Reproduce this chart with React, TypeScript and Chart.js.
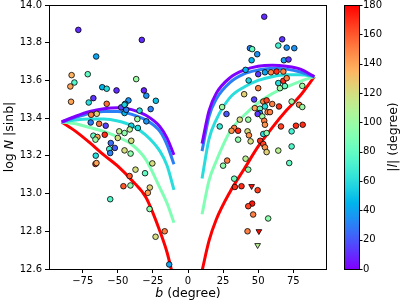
import { useEffect, useRef } from 'react';
import { Chart, registerables } from 'chart.js';

Chart.register(...registerables);

// ---- axis ticks ----
const xTicks = [-75, -50, -25, 0, 25, 50, 75];
const yTicks = [12.6, 12.8, 13.0, 13.2, 13.4, 13.6, 13.8, 14.0];
const colorbarTicks = [0, 20, 40, 60, 80, 100, 120, 140, 160, 180];

// ---- model curves ----
const curveL = [0, 30, 60, 90, 180];
const curveBSouth = [-90, -80, -70, -60, -50, -40, -30, -20, -15, -10];
const curveSouthL0 = [13.38, 13.41, 13.435, 13.45, 13.455, 13.445, 13.415, 13.355, 13.295, 13.205];
const curveSouthL30 = [13.38, 13.405, 13.425, 13.435, 13.435, 13.42, 13.39, 13.33, 13.26, 13.155];
const curveSouthL60 = [13.38, 13.39, 13.395, 13.395, 13.385, 13.36, 13.31, 13.225, 13.15, 13.02];
const curveSouthL90 = [13.38, 13.37, 13.35, 13.33, 13.30, 13.26, 13.18, 13.03, 12.95, 12.845];
const curveSouthL180 = [13.38, 13.33, 13.27, 13.205, 13.145, 13.07, 12.98, 12.80, 12.69, 12.54];
const curveBNorth = [10, 15, 20, 30, 40, 50, 60, 70, 80, 90];
const curveNorthL0 = [13.265, 13.44, 13.53, 13.615, 13.655, 13.675, 13.68, 13.675, 13.66, 13.62];
const curveNorthL30 = [13.225, 13.41, 13.50, 13.59, 13.635, 13.655, 13.665, 13.66, 13.645, 13.62];
const curveNorthL60 = [13.08, 13.29, 13.39, 13.51, 13.565, 13.60, 13.62, 13.63, 13.63, 13.62];
const curveNorthL90 = [12.89, 13.07, 13.17, 13.33, 13.415, 13.48, 13.53, 13.565, 13.595, 13.62];
const curveNorthL180 = [12.59, 12.75, 12.86, 13.01, 13.13, 13.25, 13.35, 13.44, 13.52, 13.62];

// ---- observed points: b (deg), log N|sin b|, |l| (deg) ----
const pointB = [
  -78.1, -32.9, -65.4, -82.9, -71.4, -36.9, -80.9, -83.8, -61.1, -57.9,
  -50.9, -31.4, -29.7, -83.3, -70.7, -67.4, -57.9, -42.4, -44.7, -22.9,
  -47.6, -26.6, -36.1, -65.0, -69.3, -63.3, -58.6, -67.4, -64.5, -65.9,
  -59.3, -49.0, -45.2, -50.0, -40.4, -55.0, -52.1, -56.1, -55.4, -65.7,
  -65.9, -65.2, -45.2, -40.9, -25.4, -37.4, -30.6, -41.6, -46.0, -41.0,
  -27.2, -28.6, -55.4, -27.4, -16.6, -23.1, -13.4, -45.2, -45.2, -29.7,
  -40.4, -35.7, -69.0, -44.0, -41.5, -34.5,
  54.3, 67.1, 64.3, 70.3, 75.7, 44.1, 45.7, 49.3, 45.3, 68.3,
  71.6, 41.0, 43.2, 50.0, 54.8, 59.1, 63.1, 67.9, 50.0, 64.3,
  67.9, 70.3, 65.5, 69.0, 81.4, 40.0, 47.1, 53.6, 56.0, 60.0,
  64.8, 73.8, 79.1, 81.4, 24.3, 47.6, 51.2, 54.8, 56.7, 51.2,
  49.6, 52.9, 58.4, 27.4, 36.9, 42.9, 22.6, 54.3, 54.8, 66.2,
  76.9, 81.7, 73.8, 32.9, 31.0, 35.7, 42.4, 43.4, 53.6, 56.0,
  35.7, 44.6, 51.4, 53.6, 54.8, 56.0, 64.3, 73.8, 72.1, 27.9,
  25.0, 41.0, 42.9, 32.9, 33.4, 38.1, 49.6, 45.7, 42.9, 46.4,
  57.1, 42.4,
];
const pointLogN = [
  13.868, 13.815, 13.727, 13.628, 13.633, 13.607, 13.589, 13.568, 13.564, 13.556,
  13.547, 13.547, 13.519, 13.487, 13.483, 13.506, 13.476, 13.494, 13.476, 13.492,
  13.457, 13.448, 13.395, 13.423, 13.377, 13.370, 13.360, 13.307, 13.300, 13.286,
  13.312, 13.330, 13.321, 13.295, 13.280, 13.268, 13.242, 13.236, 13.215, 13.201,
  13.157, 13.162, 13.229, 13.212, 13.160, 13.127, 13.108, 13.093, 13.039, 13.043,
  13.032, 13.004, 12.970, 12.918, 12.800, 12.771, 12.624, 13.471, 13.427, 13.383,
  13.360, 13.348, 13.418, 13.444, 13.340, 13.440,
  13.938, 13.818, 13.785, 13.774, 13.771, 13.771, 13.766, 13.739, 13.707, 13.707,
  13.711, 13.656, 13.600, 13.633, 13.643, 13.643, 13.647, 13.647, 13.559, 13.586,
  13.598, 13.612, 13.559, 13.570, 13.571, 13.527, 13.499, 13.488, 13.494, 13.475,
  13.462, 13.488, 13.471, 13.459, 13.459, 13.453, 13.450, 13.462, 13.432, 13.427,
  13.422, 13.409, 13.432, 13.422, 13.392, 13.392, 13.356, 13.386, 13.365, 13.356,
  13.360, 13.365, 13.330, 13.348, 13.333, 13.333, 13.330, 13.309, 13.316, 13.321,
  13.286, 13.277, 13.280, 13.263, 13.245, 13.220, 13.228, 13.250, 13.162, 13.175,
  13.148, 13.185, 13.127, 13.079, 13.035, 13.039, 13.018, 12.947, 12.933, 12.889,
  12.868, 12.800,
];
const pointAbsL = [
  10, 10, 40, 135, 80, 100, 75, 140, 45, 60,
  10, 8, 35, 140, 60, 12, 155, 35, 45, 50,
  15, 30, 100, 125, 30, 155, 15, 80, 140, 100,
  170, 110, 95, 120, 120, 25, 20, 70, 30, 60,
  170, 140, 120, 95, 120, 120, 80, 160, 160, 95,
  125, 140, 75, 95, 150, 120, 40, 55, 45, 35,
  55, 60, 150, 30, 110, 60,
  10, 12, 70, 35, 35, 30, 80, 35, 45, 38,
  12, 45, 55, 12, 40, 150, 170, 150, 150, 60,
  170, 150, 100, 80, 100, 125, 15, 150, 165, 150,
  170, 100, 150, 100, 100, 140, 80, 60, 145, 35,
  12, 100, 150, 20, 120, 100, 65, 150, 145, 165,
  170, 170, 70, 150, 145, 170, 120, 145, 60, 95,
  95, 120, 170, 165, 145, 125, 110, 75, 80, 150,
  95, 110, 95, 85, 170, 170, 165, 175, 165, 150,
  95, 150,
];
// upper limits (down triangles)
const limitB = [45.3, 50.5, 49.6];
const limitLogN = [13.039, 12.80, 12.726];
const limitAbsL = [175, 178, 110];

// matplotlib "rainbow" colormap
function rainbow(t: number): string {
  const c = (v: number) => Math.round(Math.max(0, Math.min(1, v)) * 255);
  const r = Math.abs(2 * t - 0.5);
  const g = Math.sin(Math.PI * t);
  const b = Math.cos((Math.PI * t) / 2);
  return `rgb(${c(r)},${c(g)},${c(b)})`;
}

const FONT = 'DejaVu Sans';
const fmtMinus = (v: number) => (v < 0 ? '\u2212' + Math.abs(v) : String(v));

function drawMixed(ctx: CanvasRenderingContext2D, parts: [string, boolean][], size: number, cx: number, cy: number, rot: number) {
  ctx.save();
  ctx.translate(cx, cy);
  ctx.rotate(rot);
  ctx.fillStyle = '#000';
  ctx.textBaseline = 'middle';
  ctx.textAlign = 'left';
  const widths = parts.map(([t, it]) => {
    ctx.font = `${it ? 'italic ' : ''}${size}px "${FONT}"`;
    return ctx.measureText(t).width;
  });
  const total = widths.reduce((a, b) => a + b, 0);
  let x = -total / 2;
  parts.forEach(([t, it], i) => {
    ctx.font = `${it ? 'italic ' : ''}${size}px "${FONT}"`;
    ctx.fillText(t, x, 0);
    x += widths[i];
  });
  ctx.restore();
}

const decorPlugin = {
  id: 'decor',
  afterDraw(chart: any) {
    const { ctx, chartArea: a } = chart;
    const yc = chart.scales.yc;
    ctx.save();
    // frame
    ctx.strokeStyle = '#000';
    ctx.lineWidth = 1;
    ctx.strokeRect(Math.round(a.left) + 0.5, Math.round(a.top) + 0.5, Math.round(a.right - a.left) - 1, Math.round(a.bottom - a.top));
    // colorbar
    const bx = a.right + 17;
    const bw = 15;
    const top = yc.getPixelForValue(180);
    const bot = yc.getPixelForValue(0);
    const grad = ctx.createLinearGradient(0, bot, 0, top);
    for (let i = 0; i <= 20; i++) grad.addColorStop(i / 20, rainbow(i / 20));
    ctx.fillStyle = grad;
    ctx.fillRect(bx, top, bw, bot - top);
    ctx.strokeRect(Math.round(bx) + 0.5, Math.round(top) + 0.5, bw, Math.round(bot - top));
    colorbarTicks.forEach((v) => {
      const y = Math.round(yc.getPixelForValue(v)) + 0.5;
      ctx.beginPath();
      ctx.moveTo(bx + bw, y);
      ctx.lineTo(bx + bw + 3.5, y);
      ctx.stroke();
    });
    ctx.restore();
    // titles
    drawMixed(ctx, [['b', true], [' (degree)', false]], 12.5, (a.left + a.right) / 2, 294, 0);
    drawMixed(ctx, [['log ', false], ['N', true], [' |sinb|', false]], 12.5, 10, (a.top + a.bottom) / 2, -Math.PI / 2);
    drawMixed(ctx, [['|', false], ['l', true], ['| (degree)', false]], 12.5, 394, (a.top + a.bottom) / 2, -Math.PI / 2);
  },
};

export default function App() {
  const ref = useRef<HTMLCanvasElement | null>(null);
  useEffect(() => {
    if (!ref.current) return;
    const curves: any[] = [];
    const south = [curveSouthL0, curveSouthL30, curveSouthL60, curveSouthL90, curveSouthL180];
    const north = [curveNorthL0, curveNorthL30, curveNorthL60, curveNorthL90, curveNorthL180];
    curveL.forEach((l, i) => {
      const col = rainbow(l / 180);
      [[curveBSouth, south[i]], [curveBNorth, north[i]]].forEach(([bs, vs]) => {
        curves.push({
          type: 'line',
          data: (bs as number[]).map((b, k) => ({ x: b, y: (vs as number[])[k] })),
          borderColor: col,
          borderWidth: 3,
          pointRadius: 0,
          fill: false,
          cubicInterpolationMode: 'monotone',
          order: 2,
        });
      });
    });
    const chart = new Chart(ref.current, {
      type: 'scatter',
      data: {
        datasets: [
          ...curves,
          {
            type: 'scatter',
            data: pointB.map((b, i) => ({ x: b, y: pointLogN[i] })),
            backgroundColor: pointAbsL.map((l) => rainbow(l / 180)),
            borderColor: '#000',
            borderWidth: 0.8,
            pointRadius: 2.8,
            order: 1,
          },
          {
            type: 'scatter',
            data: limitB.map((b, i) => ({ x: b, y: limitLogN[i] })),
            backgroundColor: limitAbsL.map((l) => rainbow(l / 180)),
            borderColor: '#000',
            borderWidth: 0.8,
            pointStyle: 'triangle',
            rotation: 180,
            pointRadius: 3.3,
            order: 0,
          },
        ],
      },
      options: {
        responsive: false,
        animation: false,
        events: [],
        layout: { padding: { top: 5, left: 0, right: 0, bottom: 0 } },
        plugins: { legend: { display: false }, tooltip: { enabled: false } },
        scales: {
          x: {
            type: 'linear',
            min: -99,
            max: 99,
            afterBuildTicks: (s: any) => { s.ticks = xTicks.map((v) => ({ value: v })); },
            ticks: { color: '#000', font: { family: FONT, size: 10 }, padding: 2, maxRotation: 0, callback: (v: any) => fmtMinus(Number(v)) },
            grid: { drawOnChartArea: false, tickLength: 4, color: '#000', tickWidth: 1 },
            border: { display: false },
            afterFit: (s: any) => { s.height = 36; s.paddingLeft = 0; s.paddingRight = 0; },
          },
          y: {
            type: 'linear',
            min: 12.6,
            max: 14.0,
            afterBuildTicks: (s: any) => { s.ticks = yTicks.map((v) => ({ value: v })); },
            ticks: { color: '#000', font: { family: FONT, size: 10 }, padding: 3, callback: (v: any) => Number(v).toFixed(1) },
            grid: { drawOnChartArea: false, tickLength: 4, color: '#000', tickWidth: 1 },
            border: { display: false },
            afterFit: (s: any) => { s.width = 49; s.paddingTop = 0; s.paddingBottom = 0; },
          },
          yc: {
            type: 'linear',
            position: 'right',
            min: 0,
            max: 180,
            afterBuildTicks: (s: any) => { s.ticks = colorbarTicks.map((v) => ({ value: v })); },
            ticks: { color: '#000', font: { family: FONT, size: 10 }, padding: 36 },
            grid: { display: false, drawTicks: false, drawOnChartArea: false },
            border: { display: false },
            afterFit: (s: any) => { s.width = 80; s.paddingTop = 0; s.paddingBottom = 0; },
          },
        },
      },
      plugins: [decorPlugin],
    } as any);
    return () => chart.destroy();
  }, []);
  return (
    <div style={{ position: 'fixed', left: 0, top: 0, width: 407, height: 305, background: '#fff' }}>
      <canvas ref={ref} width={407} height={305} style={{ display: 'block' }} />
    </div>
  );
}
